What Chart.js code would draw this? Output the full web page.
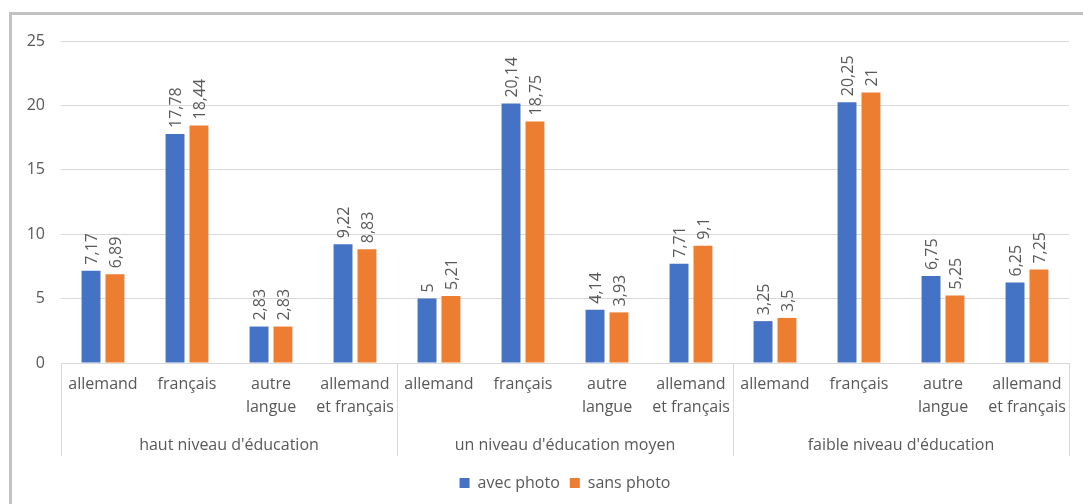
<!DOCTYPE html>
<html>
<head>
<meta charset="utf-8">
<script src="https://cdn.jsdelivr.net/npm/chart.js@4/dist/chart.umd.min.js"></script>
<style>
  html, body { margin: 0; padding: 0; background: #fff; overflow: hidden; }
  #wrap { position: relative; width: 1083px; height: 504px; }
  #frame { position: absolute; left: 9px; top: 12px; width: 1200px; height: 600px; border: 3px solid #c2c2c2; box-sizing: border-box; pointer-events: none; }
  canvas { position: absolute; left: 0; top: 0; }
</style>
</head>
<body>
<div id="wrap">
  <canvas id="c" width="1083" height="504"></canvas>
  <div id="frame"></div>
</div>
<script>
const groups = ["haut niveau d'éducation", "un niveau d'éducation moyen", "faible niveau d'éducation"];
const languages = [["allemand"], ["français"], ["autre", "langue"], ["allemand", "et français"]];
const avecPhoto = [7.17, 17.78, 2.83, 9.22, 5, 20.14, 4.14, 7.71, 3.25, 20.25, 6.75, 6.25];
const sansPhoto = [6.89, 18.44, 2.83, 8.83, 5.21, 18.75, 3.93, 9.1, 3.5, 21, 5.25, 7.25];
const seriesNames = ["avec photo", "sans photo"];
const yTicks = [0, 5, 10, 15, 20, 25];

const labels = groups.flatMap(() => languages);
const TEXT = '#595959';
const FONT = '"Open Sans", sans-serif';

const valueLabels = {
  id: 'valueLabels',
  afterDatasetsDraw(chart) {
    const ctx = chart.ctx;
    ctx.save();
    ctx.font = '16px ' + FONT;
    ctx.fillStyle = TEXT;
    ctx.textAlign = 'left';
    ctx.textBaseline = 'middle';
    chart.data.datasets.forEach((ds, di) => {
      chart.getDatasetMeta(di).data.forEach((bar, i) => {
        const txt = String(ds.data[i]).replace('.', ',');
        ctx.save();
        ctx.translate(bar.x + 1, bar.y - 6);
        ctx.rotate(-Math.PI / 2);
        ctx.fillText(txt, 0, 0);
        ctx.restore();
      });
    });
    ctx.restore();
  }
};

const groupAxis = {
  id: 'groupAxis',
  afterDraw(chart) {
    const x = chart.scales.x;
    const area = chart.chartArea;
    const ctx = chart.ctx;
    const per = languages.length;
    const bounds = [area.left];
    for (let g = 1; g < groups.length; g++) {
      bounds.push((x.getPixelForValue(g * per - 1) + x.getPixelForValue(g * per)) / 2);
    }
    bounds.push(area.right);
    ctx.save();
    ctx.strokeStyle = '#d9d9d9';
    ctx.lineWidth = 1;
    bounds.forEach(b => {
      const bx = Math.round(b) + 0.5;
      ctx.beginPath();
      ctx.moveTo(bx, area.bottom);
      ctx.lineTo(bx, area.bottom + 93);
      ctx.stroke();
    });
    ctx.font = '16px ' + FONT;
    ctx.fillStyle = TEXT;
    ctx.textAlign = 'center';
    ctx.textBaseline = 'middle';
    groups.forEach((g, gi) => {
      ctx.fillText(g, (bounds[gi] + bounds[gi + 1]) / 2, area.bottom + 82);
    });
    ctx.restore();
  }
};

new Chart(document.getElementById('c'), {
  type: 'bar',
  data: {
    labels: labels,
    datasets: [
      { label: seriesNames[0], data: avecPhoto, backgroundColor: '#4472C4', categoryPercentage: 0.57, barPercentage: 0.79 },
      { label: seriesNames[1], data: sansPhoto, backgroundColor: '#ED7D31', categoryPercentage: 0.57, barPercentage: 0.79 }
    ]
  },
  options: {
    responsive: false,
    animation: false,
    devicePixelRatio: 1,
    layout: { padding: { top: 41, right: 14, bottom: 3, left: 0 } },
    plugins: {
      legend: {
        position: 'bottom',
        fullSize: false,
        labels: {
          boxWidth: 10, boxHeight: 10, padding: 10,
          color: TEXT, font: { family: FONT, size: 16 }
        }
      },
      tooltip: { enabled: false }
    },
    scales: {
      x: {
        grid: { display: false },
        border: { display: true, color: '#d9d9d9' },
        ticks: {
          autoSkip: false, maxRotation: 0, minRotation: 0, padding: 2,
          color: TEXT, font: { family: FONT, size: 16, lineHeight: 1.45 }
        },
        afterFit(s) { s.height = 102; }
      },
      y: {
        min: 0, max: 25,
        afterBuildTicks(s) { s.ticks = yTicks.map(v => ({ value: v })); },
        grid: { color: '#d9d9d9', drawTicks: false },
        border: { display: false },
        ticks: { padding: 16, color: TEXT, font: { family: FONT, size: 16 } },
        afterFit(s) { s.width = 61; }
      }
    }
  },
  plugins: [valueLabels, groupAxis]
});
</script>
</body>
</html>
